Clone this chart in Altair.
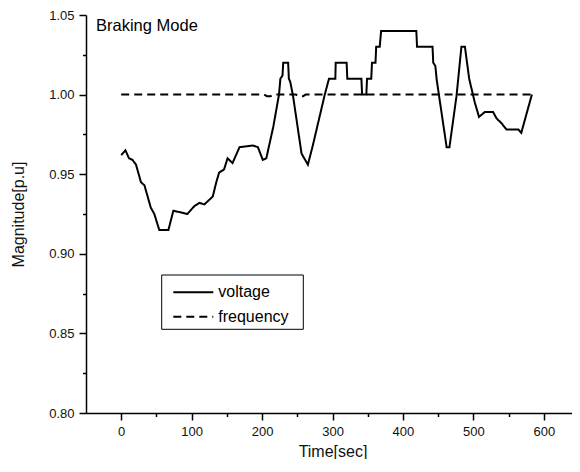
import altair as alt
import pandas as pd

# ---- data ----
volt_time = [0, 6, 11, 16, 21, 28, 33, 42, 47, 54, 67, 74, 85, 94, 104, 111, 118, 130, 135,
             139, 146, 151, 158, 168, 187, 194, 201, 206, 211, 216, 220, 224, 226, 229, 230,
             237, 238, 240, 244, 256, 265, 272, 289, 295, 304, 304.5, 320, 321, 341, 342,
             348, 349, 355, 356, 361, 362, 367, 369, 419, 420, 442, 443, 446, 448, 452,
             462, 466, 476, 483, 488, 491, 494, 502, 508, 516, 528, 533, 540, 547, 564,
             568, 583]
volt_vals = [0.962, 0.965, 0.960, 0.959, 0.956, 0.945, 0.943, 0.929, 0.925, 0.915, 0.915,
             0.927, 0.926, 0.925, 0.930, 0.932, 0.931, 0.936, 0.945, 0.951, 0.953, 0.960,
             0.957, 0.967, 0.968, 0.967, 0.959, 0.960, 0.970, 0.980, 0.990, 1.000, 1.010,
             1.012, 1.020, 1.020, 1.010, 1.008, 0.999, 0.963, 0.956, 0.968, 1.000, 1.010,
             1.010, 1.020, 1.020, 1.010, 1.010, 1.000, 1.000, 1.010, 1.010, 1.020, 1.020,
             1.030, 1.030, 1.040, 1.040, 1.030, 1.030, 1.020, 1.018, 1.009, 0.997, 0.967,
             0.967, 0.999, 1.030, 1.030, 1.020, 1.010, 0.995, 0.986, 0.989, 0.989, 0.985,
             0.982, 0.978, 0.978, 0.976, 1.000]

freq_time = [0, 203, 207, 212, 216, 248, 252, 258, 262, 583]
freq_vals = [1.000, 1.000, 0.999, 0.999, 1.000, 1.000, 0.999, 0.999, 1.000, 1.000]

series_names = ["voltage", "frequency"]
x_ticks = [0, 50, 100, 150, 200, 250, 300, 350, 400, 450, 500, 550, 600]
y_ticks = [0.80, 0.825, 0.85, 0.875, 0.90, 0.925, 0.95, 0.975, 1.00, 1.025, 1.05]
annotation = ["Braking Mode"]

df = pd.concat([
    pd.DataFrame({"t": volt_time, "v": volt_vals, "series": series_names[0]}),
    pd.DataFrame({"t": freq_time, "v": freq_vals, "series": series_names[1]}),
], ignore_index=True)

FONT = "Liberation Sans"
DASHES = [[1, 0], [8, 5]]

x_axis = alt.Axis(
    values=x_ticks,
    labelExpr="datum.value % 100 === 0 ? datum.label : ''",
    tickSize={"condition": {"test": "datum.value % 100 !== 0", "value": 3.5}, "value": 7},
    labelPadding=5,
    title="Time[sec]",
    titleX=246.5,
    titleY=38,
    titleBaseline="middle",
    titleAlign="center",
)
y_axis = alt.Axis(
    values=y_ticks,
    labelExpr="round(datum.value*1000) % 50 === 0 ? format(datum.value, '.2f') : ''",
    tickSize={"condition": {"test": "round(datum.value*1000) % 50 !== 0", "value": 3.5}, "value": 7},
    labelPadding=5,
    title="Magnitude[p.u]",
    titleX=-68,
    titleY=199,
    titleAngle=270,
    titleBaseline="middle",
    titleAlign="center",
)

x_scale = alt.Scale(domain=[-50, 640], nice=False, zero=False)
y_scale = alt.Scale(domain=[0.80, 1.05], nice=False, zero=False)

lines = alt.Chart(df).mark_line(strokeWidth=2, color="black").encode(
    x=alt.X("t:Q", scale=x_scale, axis=x_axis),
    y=alt.Y("v:Q", scale=y_scale, axis=y_axis),
    strokeDash=alt.StrokeDash(
        "series:N",
        scale=alt.Scale(domain=series_names, range=DASHES),
        legend=None,
    ),
    detail="series:N",
)

label = alt.Chart(pd.DataFrame({"text": annotation})).mark_text(
    align="left", baseline="alphabetic", font=FONT, fontSize=16.5, color="black"
).encode(x=alt.value(10), y=alt.value(16), text="text:N")

# ---- legend box (drawn as decoration) ----
LX, LY, LW, LH = 75.7, 260, 141.6, 54.3
ROW_Y = [LY + 17.3, LY + 41.7]

legend_box = alt.Chart(pd.DataFrame({"k": [0]})).mark_rect(
    fill="white", stroke="black", strokeWidth=1
).encode(
    x=alt.value(LX), x2=alt.value(LX + LW), y=alt.value(LY), y2=alt.value(LY + LH)
)

legend_layers = [legend_box]
for i, name in enumerate(series_names):
    legend_layers.append(
        alt.Chart(pd.DataFrame({"series": [name]})).mark_rule(
            color="black", strokeWidth=2, strokeDash=DASHES[i]
        ).encode(
            x=alt.value(LX + 11.6), x2=alt.value(LX + 51.6), y=alt.value(ROW_Y[i])
        )
    )
    legend_layers.append(
        alt.Chart(pd.DataFrame({"series": [name]})).mark_text(
            align="left", baseline="middle", font=FONT, fontSize=16, color="black"
        ).encode(x=alt.value(LX + 56.6), y=alt.value(ROW_Y[i]), text="series:N")
    )

chart = alt.layer(lines, label, *legend_layers).properties(
    width=486,
    height=398,
    autosize=alt.AutoSizeParams(type="none"),
    padding={"left": 78, "top": 7, "right": 0, "bottom": 46},
).configure_view(stroke=None).configure_axis(
    grid=False,
    domainColor="black",
    domainWidth=1.5,
    tickColor="black",
    tickWidth=1.5,
    labelFont=FONT,
    labelFontSize=13,
    labelColor="#111111",
    titleFont=FONT,
    titleFontSize=16,
    titleFontWeight="normal",
    titleColor="#111111",
)

chart.save("out.html", embed_options={"renderer": "svg", "actions": False})
